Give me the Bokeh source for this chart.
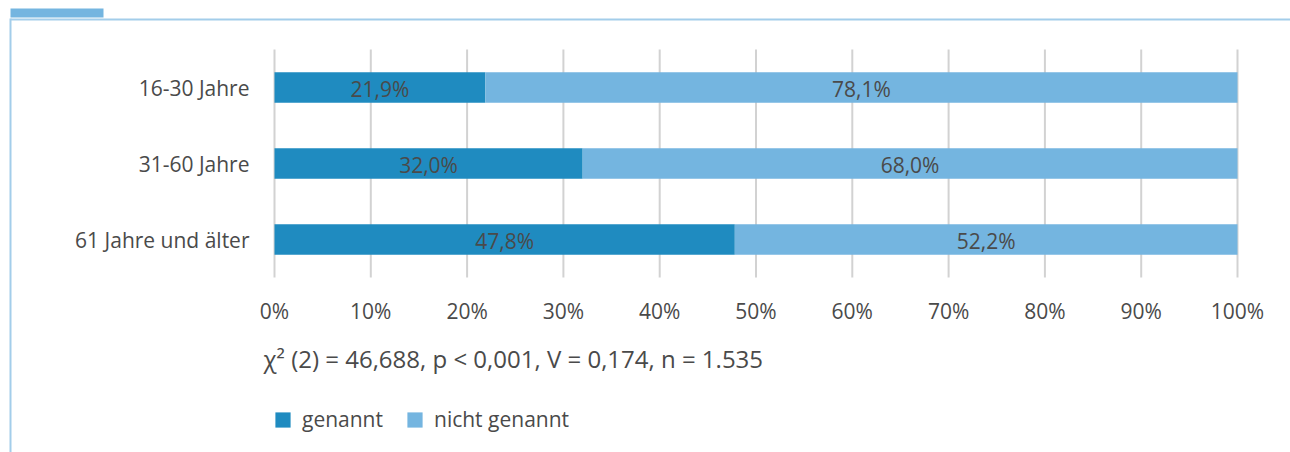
from bokeh.plotting import figure
from bokeh.models import (Range1d, FixedTicker, Label, Legend, LegendItem,
                          BoxAnnotation, ColumnDataSource, LabelSet)
from bokeh.embed import file_html
from bokeh.resources import INLINE
from bokeh.core.properties import value

# ---- data ----
categories = ["16-30 Jahre", "31-60 Jahre", "61 Jahre und älter"]
genannt = [21.9, 32.0, 47.8]
nicht_genannt = [78.1, 68.0, 52.2]
series_names = ["genannt", "nicht genannt"]
x_ticks = [0, 10, 20, 30, 40, 50, 60, 70, 80, 90, 100]
x_tick_labels = ["0%", "10%", "20%", "30%", "40%", "50%", "60%", "70%", "80%", "90%", "100%"]
stats_text = "χ² (2) = 46,688,  p < 0,001, V = 0,174, n = 1.535"

# ---- styles / layout (pixels) ----
FONT = "Open Sans"
TXT = "#4a4a4a"
C_DARK = "#1f8bc0"
C_LIGHT = "#74b5e0"
FRAME_C = "#a3cdea"
GRID_C = "#d2d2d2"

W, H = 1290, 452
PL, PR, PT, PB = 274, 1237, 49, 277      # plot area in pixels
X0, X1 = 0, 100
n = len(categories)
Y0, Y1 = -0.5, n - 0.5

sx = (PR - PL) / (X1 - X0)
sy = (PB - PT) / (Y1 - Y0)

def px2x(px):
    return X0 + (px - PL) / sx

def py2y(py):
    return Y0 + (PB - py) / sy

ypos = [n - 1 - i for i in range(n)]

def fmt(v):
    return f"{v:.1f}".replace(".", ",") + "%"

src = ColumnDataSource(dict(
    y=ypos,
    g=genannt,
    ng_left=genannt,
    ng_right=[a + b for a, b in zip(genannt, nicht_genannt)],
    g_mid=[v / 2 for v in genannt],
    ng_mid=[a + b / 2 for a, b in zip(genannt, nicht_genannt)],
    g_lab=[fmt(v) for v in genannt],
    ng_lab=[fmt(v) for v in nicht_genannt],
))

p = figure(width=W, height=H, output_backend="svg", toolbar_location=None,
           x_range=Range1d(px2x(0), px2x(W)), y_range=Range1d(py2y(H), py2y(0)),
           min_border=0)
p.outline_line_color = None
p.background_fill_color = "white"
p.border_fill_color = "white"

# grid lines as segments limited to plot area
p.segment(x0=x_ticks, y0=[Y0] * len(x_ticks), x1=x_ticks, y1=[Y1] * len(x_ticks),
          line_color=GRID_C, line_width=2)

r1 = p.hbar(y="y", left=0, right="g", height=0.4, source=src,
            fill_color=C_DARK, line_color=None)
r2 = p.hbar(y="y", left="ng_left", right="ng_right", height=0.4, source=src,
            fill_color=C_LIGHT, line_color=None)

for xcol, tcol in (("g_mid", "g_lab"), ("ng_mid", "ng_lab")):
    p.add_layout(LabelSet(x=xcol, y="y", text=tcol, source=src,
                          text_align="center", text_baseline="middle",
                          text_font=value(FONT), text_font_size="21px",
                          text_color=TXT, y_offset=-1))

# axes, fixed inside the frame
xa = p.xaxis[0]
xa.fixed_location = Y0
xa.ticker = FixedTicker(ticks=x_ticks)
xa.major_label_overrides = {t: l for t, l in zip(x_ticks, x_tick_labels)}
xa.axis_line_color = None
xa.major_tick_line_color = None
xa.minor_tick_line_color = None
xa.major_tick_in = 0
xa.major_tick_out = 0
xa.major_label_standoff = 19
xa.major_label_text_font = FONT
xa.major_label_text_font_size = "21px"
xa.major_label_text_color = TXT

ya = p.yaxis[0]
ya.fixed_location = X0
ya.ticker = FixedTicker(ticks=ypos)
ya.major_label_overrides = {y: c for y, c in zip(ypos, categories)}
ya.axis_line_color = None
ya.major_tick_line_color = None
ya.minor_tick_line_color = None
ya.major_tick_in = 0
ya.major_tick_out = 0
ya.major_label_standoff = 25
ya.major_label_text_font = FONT
ya.major_label_text_font_size = "21px"
ya.major_label_text_color = TXT

p.xgrid.grid_line_color = None
p.ygrid.grid_line_color = None

# statistics text
p.add_layout(Label(x=px2x(263), y=py2y(358), text=stats_text, text_baseline="middle",
                   text_font=FONT, text_font_size="24px", text_color=TXT))

# legend
legend = Legend(items=[LegendItem(label=series_names[0], renderers=[r1]),
                       LegendItem(label=series_names[1], renderers=[r2])],
                orientation="horizontal", location=(PL - 1, H - 433),
                padding=0, margin=0, spacing=22, label_standoff=10,
                glyph_width=19, glyph_height=19,
                border_line_color=None, background_fill_alpha=0,
                label_text_font=FONT, label_text_font_size="21px",
                label_text_color=TXT)
p.add_layout(legend, "center")

# decorative frame (pixel positions converted to data space)
def box(l, r, t, b, color):
    p.add_layout(BoxAnnotation(left=px2x(l), right=px2x(r), top=py2y(t), bottom=py2y(b),
                               fill_color=color, fill_alpha=1, line_color=None))

box(10, 103, 8, 17, C_LIGHT)
box(10, W, 18, 20, FRAME_C)
box(9, 11, 18, H, FRAME_C)

open("out.html", "w").write(file_html(p, INLINE))
